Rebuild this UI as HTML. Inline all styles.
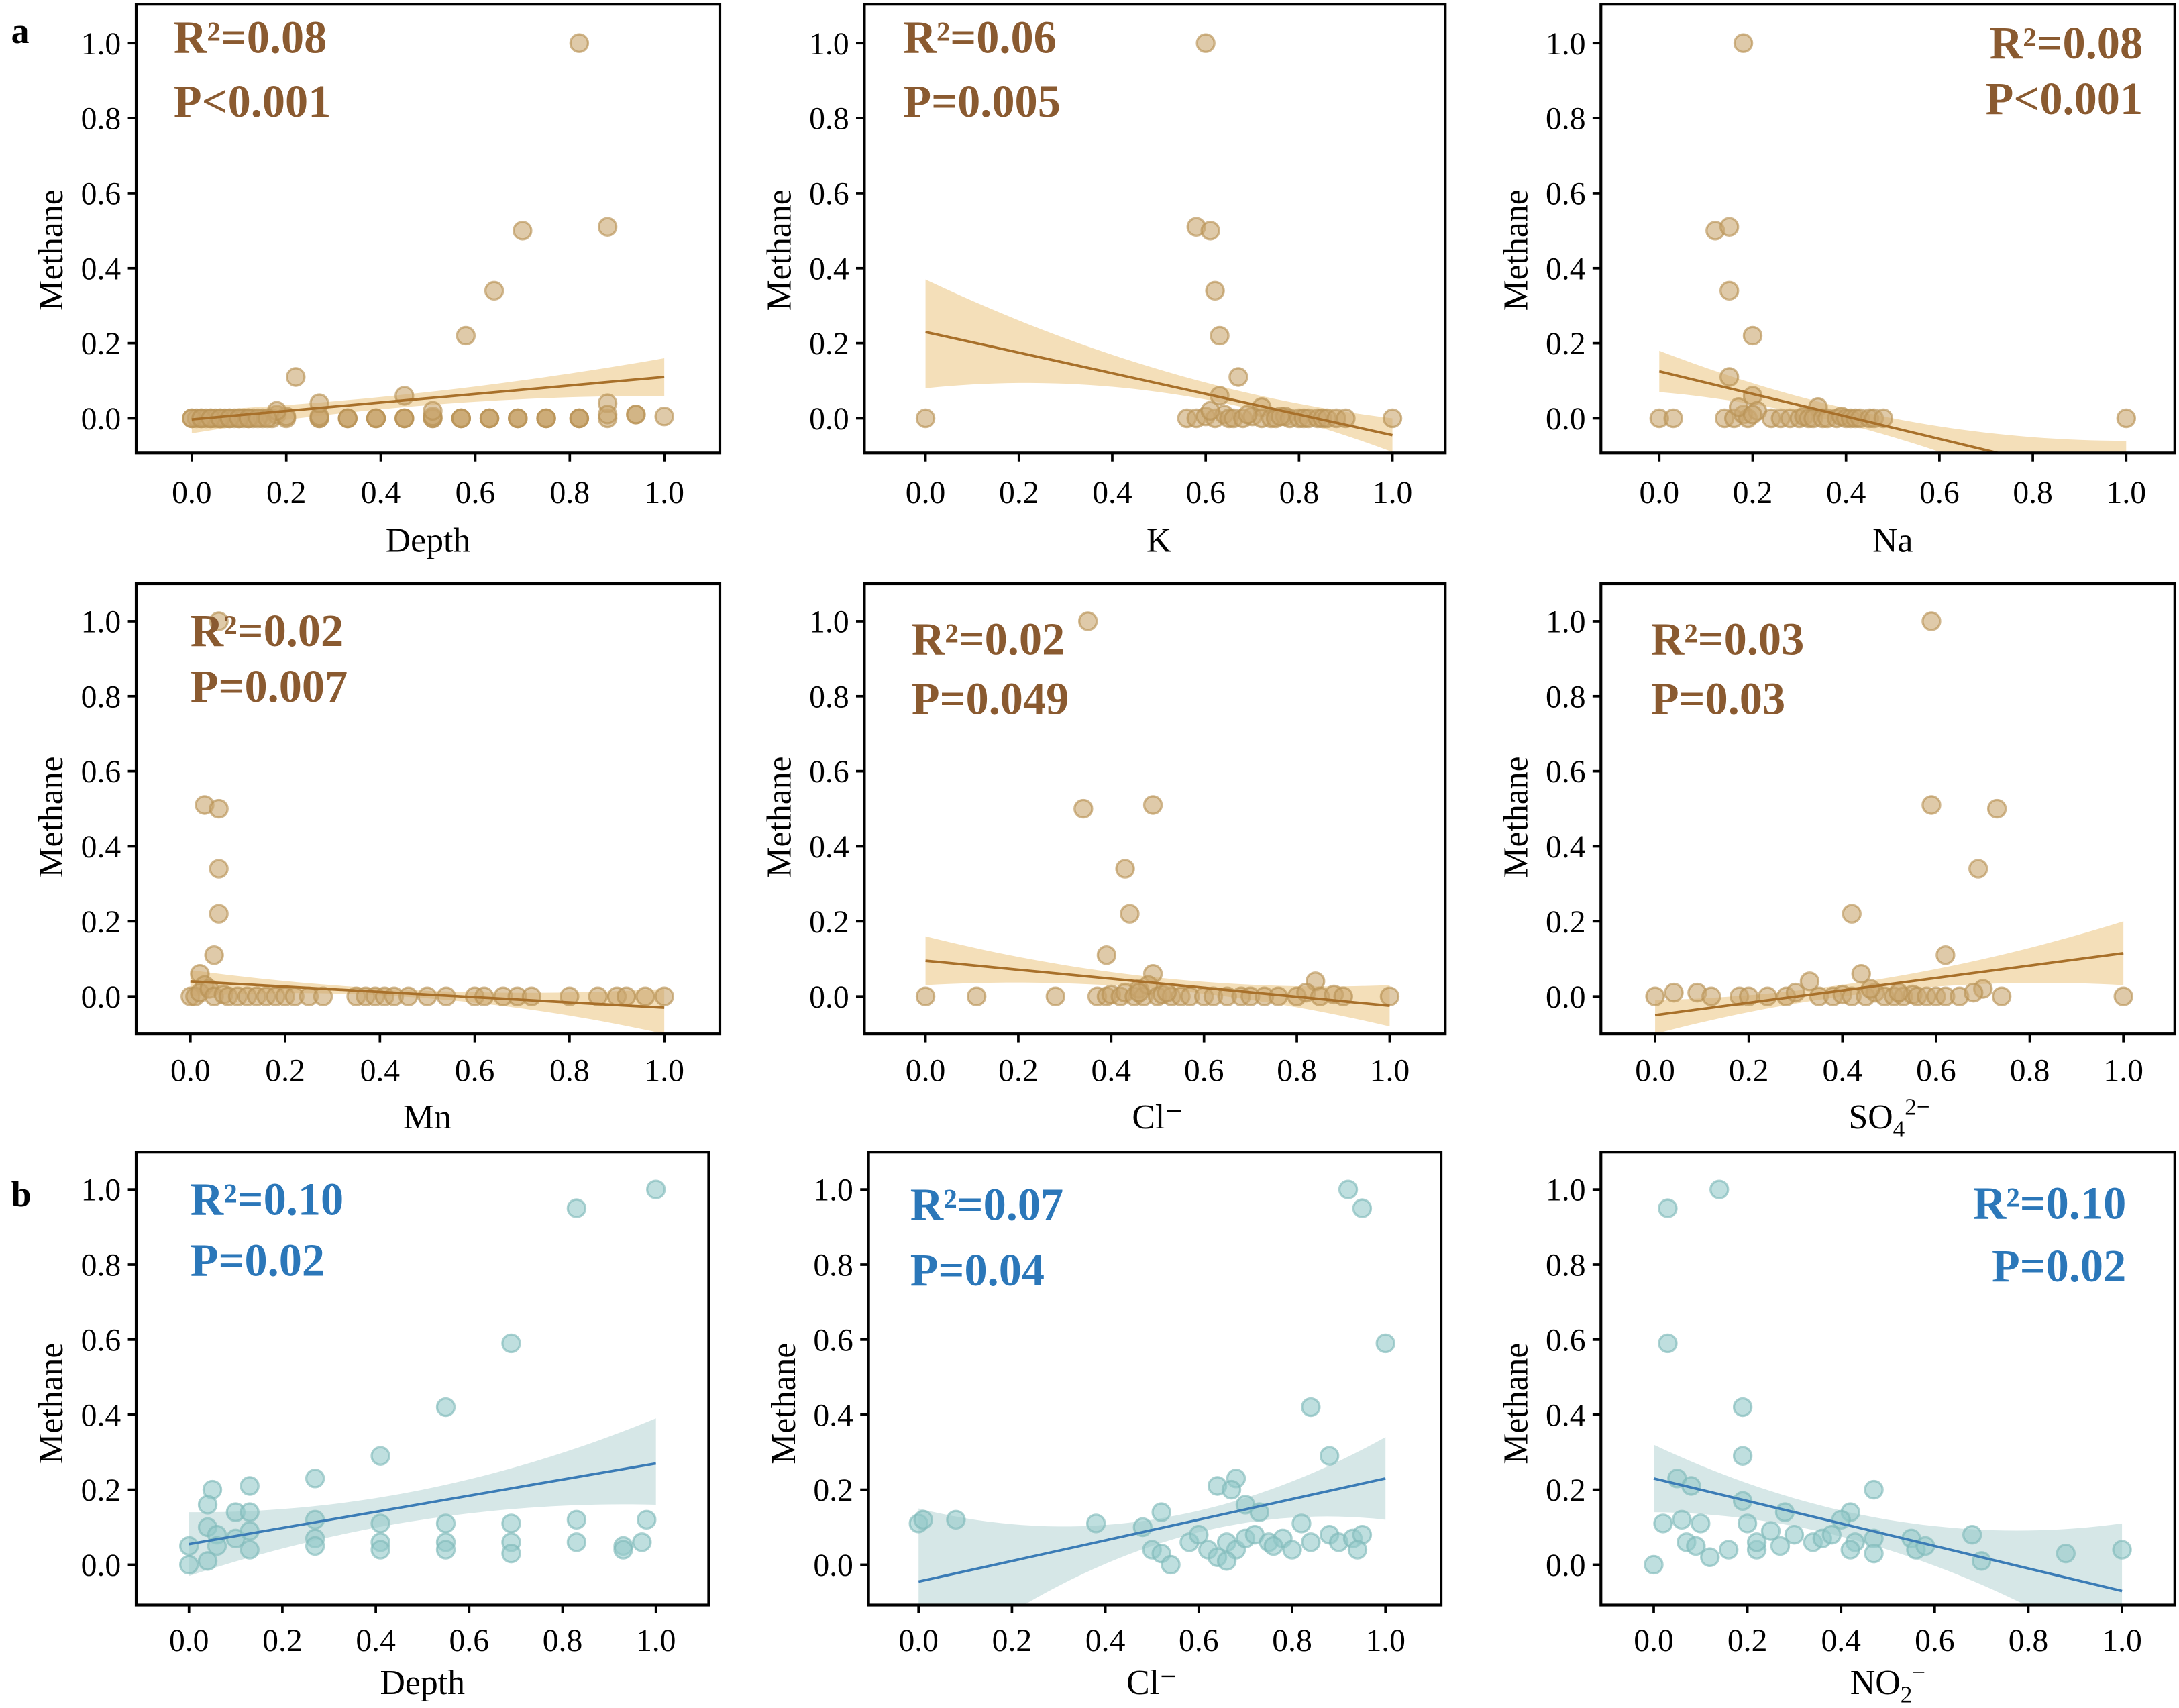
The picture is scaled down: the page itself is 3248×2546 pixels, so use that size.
<!DOCTYPE html>
<html><head><meta charset="utf-8"><style>
html,body{margin:0;padding:0;background:#fff}
svg{display:block}
text{font-family:"Liberation Serif",serif}
</style></head><body>
<svg id="fig" xmlns="http://www.w3.org/2000/svg" width="3248" height="2546" viewBox="0 0 1568 1229.1">
<rect x="0" y="0" width="1568" height="1230" fill="#fff"/>
<text x="8" y="31" font-size="26" font-weight="bold">a</text>
<text x="8" y="868" font-size="26" font-weight="bold">b</text>
</svg>
<script>
// ---- data ----
const ticks = [0, 0.2, 0.4, 0.6, 0.8, 1.0];
const tickLabels = ["0.0", "0.2", "0.4", "0.6", "0.8", "1.0"];

const a1X = [0,0.01,0.02,0.03,0.04,0.05,0.06,0.07,0.08,0.09,0.1,0.11,0.12,0.13,0.15,0.17,0.18,0.2,0.2,0.27,0.27,0.27,0.33,0.33,0.39,0.39,0.45,0.45,0.51,0.51,0.51,0.57,0.57,0.63,0.63,0.69,0.69,0.75,0.75,0.82,0.82,0.88,0.94,0.94,1.0,0.82,0.7,0.88,0.64,0.58,0.22,0.45,0.27,0.88,0.18,0.88,0.51,0,0.02,0.04,0.06,0.08,0.1,0.12,0.14,0.16,0.33,0.39,0.45,0.57,0.63,0.69,0.75,0.82];
const a1Y = [0,0,0,0,0,0,0,0,0,0,0,0,0,0,0,0,0.01,0,0.005,0,0,0.005,0,0,0,0,0,0,0,0,0.005,0,0,0,0,0,0,0,0,0,0,0,0.01,0.01,0.005,1.0,0.5,0.51,0.34,0.22,0.11,0.06,0.04,0.04,0.02,0.01,0.02,0,0,0,0,0,0,0,0,0,0,0,0,0,0,0,0,0];
const a1Fit = [-0.003, 0.11];
const a1Lo = [-0.04, 0.035, 0.06];
const a1Hi = [0.02, 0.07, 0.16];

const a2X = [0,0.6,0.58,0.61,0.62,0.63,0.67,0.63,0.72,0.56,0.58,0.6,0.62,0.64,0.65,0.66,0.68,0.7,0.72,0.74,0.75,0.77,0.78,0.8,0.81,0.82,0.84,0.85,0.86,0.88,0.9,0.61,0.69,0.76,1.0];
const a2Y = [0,1.0,0.51,0.5,0.34,0.22,0.11,0.06,0.03,0,0,0.005,0,0.01,0,0,0,0.005,0,0,0,0.005,0,0,0,0,0,0,0,0,0,0.02,0.01,0.005,0];
const a2Fit = [0.23, -0.045];
const a2Lo = [0.08, 0.07, -0.09];
const a2Hi = [0.37, 0.13, 0.0];

const a3X = [0,0.03,0.18,0.12,0.15,0.15,0.2,0.15,0.2,0.34,0.14,0.16,0.18,0.19,0.21,0.24,0.26,0.28,0.3,0.31,0.32,0.33,0.35,0.36,0.38,0.39,0.4,0.41,0.42,0.43,0.45,0.46,0.48,0.17,0.2,1.0];
const a3Y = [0,0,1.0,0.5,0.51,0.34,0.22,0.11,0.06,0.03,0,0,0.01,0,0.02,0,0,0,0,0.005,0,0,0,0,0,0.005,0,0,0,0,0,0,0,0.03,0.01,0];
const a3Fit = [0.125, -0.175];
const a3Lo = [0.07, -0.05, -0.3];
const a3Hi = [0.18, 0.0, -0.06];

const a4X = [0.06,0.03,0.06,0.06,0.06,0.05,0.02,0.03,0,0.01,0.02,0.04,0.05,0.07,0.08,0.1,0.12,0.14,0.16,0.18,0.2,0.22,0.25,0.28,0.35,0.37,0.39,0.41,0.43,0.46,0.5,0.54,0.6,0.62,0.66,0.69,0.72,0.8,0.86,0.9,0.92,0.96,1.0];
const a4Y = [1.0,0.51,0.5,0.34,0.22,0.11,0.06,0.03,0,0,0.01,0.02,0,0.005,0,0,0,0,0,0,0,0,0,0,0,0,0,0,0,0,0,0,0,0,0,0,0,0,0,0,0,0,0];
const a4Fit = [0.04, -0.03];
const a4Lo = [0.0, -0.005, -0.1];
const a4Hi = [0.07, 0.015, 0.02];

const a5X = [0.35,0.34,0.49,0.43,0.44,0.39,0.49,0.84,0,0.11,0.28,0.37,0.39,0.4,0.42,0.43,0.45,0.46,0.47,0.48,0.5,0.51,0.53,0.55,0.57,0.6,0.62,0.65,0.68,0.7,0.73,0.76,0.8,0.82,0.85,0.88,0.9,0.46,0.52,1.0];
const a5Y = [1.0,0.5,0.51,0.34,0.22,0.11,0.06,0.04,0,0,0,0,0,0.005,0,0.01,0,0.02,0,0.03,0,0.005,0,0,0,0,0,0,0,0,0,0,0,0.01,0,0.005,0,0.01,0.01,0];
const a5Fit = [0.095, -0.025];
const a5Lo = [0.03, 0.02, -0.08];
const a5Hi = [0.16, 0.05, 0.03];

const a6X = [0.59,0.59,0.73,0.69,0.42,0.62,0.44,0.7,0.33,0,0.04,0.09,0.12,0.18,0.2,0.24,0.28,0.3,0.35,0.38,0.4,0.42,0.45,0.47,0.49,0.51,0.53,0.55,0.56,0.58,0.6,0.62,0.65,0.68,0.74,0.46,0.52,1.0];
const a6Y = [1.0,0.51,0.5,0.34,0.22,0.11,0.06,0.02,0.04,0,0.01,0.01,0,0,0,0,0,0.01,0,0,0.005,0,0,0.01,0,0,0,0.005,0,0,0,0,0,0.01,0,0.02,0.01,0];
const a6Fit = [-0.05, 0.115];
const a6Lo = [-0.1, 0.015, 0.03];
const a6Hi = [-0.01, 0.05, 0.2];

const b1X = [1.0,0.83,0.69,0.55,0.41,0.27,0.05,0.13,0.04,0.1,0.13,0,0,0.04,0.06,0.1,0.13,0.27,0.27,0.27,0.41,0.41,0.41,0.55,0.55,0.55,0.69,0.69,0.69,0.83,0.83,0.93,0.93,0.97,0.98,0.04,0.13,0.06];
const b1Y = [1.0,0.95,0.59,0.42,0.29,0.23,0.2,0.21,0.16,0.14,0.14,0.05,0.0,0.1,0.08,0.07,0.09,0.12,0.07,0.05,0.11,0.06,0.04,0.11,0.06,0.04,0.11,0.06,0.03,0.12,0.06,0.05,0.04,0.06,0.12,0.01,0.04,0.05];
const b1Fit = [0.055, 0.27];
const b1Lo = [-0.03, 0.12, 0.16];
const b1Hi = [0.14, 0.2, 0.39];

const b2X = [0,0.01,0.08,0.92,0.95,1.0,0.84,0.88,0.68,0.64,0.67,0.7,0.73,0.52,0.38,0.48,0.5,0.52,0.54,0.58,0.6,0.62,0.64,0.66,0.68,0.7,0.72,0.75,0.78,0.8,0.82,0.84,0.88,0.9,0.93,0.95,0.94,0.66,0.76];
const b2Y = [0.11,0.12,0.12,1.0,0.95,0.59,0.42,0.29,0.23,0.21,0.2,0.16,0.14,0.14,0.11,0.1,0.04,0.03,0.0,0.06,0.08,0.04,0.02,0.06,0.04,0.07,0.08,0.06,0.07,0.04,0.11,0.06,0.08,0.06,0.07,0.08,0.04,0.01,0.05];
const b2Fit = [-0.045, 0.23];
const b2Lo = [-0.3, 0.05, 0.12];
const b2Hi = [0.15, 0.12, 0.34];

const b3X = [0.14,0.03,0.03,0.19,0.19,0.05,0.08,0.47,0.19,0.28,0.42,0.4,0.02,0.06,0.1,0.2,0.25,0.3,0.34,0.36,0.38,0.43,0.47,0.47,0.42,0.55,0.56,0.58,0.68,0.7,0.88,1.0,0.0,0.07,0.09,0.12,0.16,0.22,0.22,0.27];
const b3Y = [1.0,0.95,0.59,0.42,0.29,0.23,0.21,0.2,0.17,0.14,0.14,0.12,0.11,0.12,0.11,0.11,0.09,0.08,0.06,0.07,0.08,0.06,0.07,0.03,0.04,0.07,0.04,0.05,0.08,0.01,0.03,0.04,0.0,0.06,0.05,0.02,0.04,0.04,0.06,0.05];
const b3Fit = [0.23, -0.07];
const b3Lo = [0.14, 0.04, -0.25];
const b3Hi = [0.32, 0.12, 0.11];

// ---- layout ----
const tan = {pt:"#c9a66f", ptStroke:"#b89254", line:"#a8702a", band:"#f2d9ad", txt:"#8a5a30"};
const teal = {pt:"#94c9c9", ptStroke:"#80baba", line:"#3b7cb6", band:"#cfe3e3", txt:"#2b77b9"};
const rows = [
  {top:3, bot:326, y0:301, y1:31, tickBase:362, labBase:397, ylab:180},
  {top:420, bot:744, y0:717, y1:447, tickBase:778, labBase:812, ylab:588},
  {top:829, bot:1155, y0:1126, y1:856, tickBase:1188, labBase:1219, ylab:1010}
];
const panels = [
  {id:"a-depth", row:0, l:98, r:518, x0:138, x1:478, xs:a1X, ys:a1Y, fit:a1Fit, lo:a1Lo, hi:a1Hi, c:tan, xl:"Depth", r2:"R²=0.08", p:"P<0.001", ax:125, ay:[38,84], anchor:"start"},
  {id:"a-k", row:0, l:622, r:1040, x0:666, x1:1002, xs:a2X, ys:a2Y, fit:a2Fit, lo:a2Lo, hi:a2Hi, c:tan, xl:"K", r2:"R²=0.06", p:"P=0.005", ax:650, ay:[38,84], anchor:"start"},
  {id:"a-na", row:0, l:1152, r:1565, x0:1194, x1:1530, xs:a3X, ys:a3Y, fit:a3Fit, lo:a3Lo, hi:a3Hi, c:tan, xl:"Na", r2:"R²=0.08", p:"P<0.001", ax:1542, ay:[42,82], anchor:"end"},
  {id:"a-mn", row:1, l:98, r:518, x0:137, x1:478, xs:a4X, ys:a4Y, fit:a4Fit, lo:a4Lo, hi:a4Hi, c:tan, xl:"Mn", r2:"R²=0.02", p:"P=0.007", ax:137, ay:[465,505], anchor:"start"},
  {id:"a-cl", row:1, l:622, r:1040, x0:666, x1:1000, xs:a5X, ys:a5Y, fit:a5Fit, lo:a5Lo, hi:a5Hi, c:tan, xl:"Cl⁻", r2:"R²=0.02", p:"P=0.049", ax:656, ay:[471,514], anchor:"start"},
  {id:"a-so4", row:1, l:1152, r:1565, x0:1191, x1:1528, xs:a6X, ys:a6Y, fit:a6Fit, lo:a6Lo, hi:a6Hi, c:tan, xl:"SO", xsub:"4", xsup:"2−", r2:"R²=0.03", p:"P=0.03", ax:1188, ay:[471,514], anchor:"start"},
  {id:"b-depth", row:2, l:98, r:510, x0:136, x1:472, xs:b1X, ys:b1Y, fit:b1Fit, lo:b1Lo, hi:b1Hi, c:teal, xl:"Depth", r2:"R²=0.10", p:"P=0.02", ax:137, ay:[874,918], anchor:"start"},
  {id:"b-cl", row:2, l:625, r:1037, x0:661, x1:997, xs:b2X, ys:b2Y, fit:b2Fit, lo:b2Lo, hi:b2Hi, c:teal, xl:"Cl⁻", r2:"R²=0.07", p:"P=0.04", ax:655, ay:[878,925], anchor:"start"},
  {id:"b-no2", row:2, l:1152, r:1565, x0:1190, x1:1527, xs:b3X, ys:b3Y, fit:b3Fit, lo:b3Lo, hi:b3Hi, c:teal, xl:"NO", xsub:"2", xsup:"−", r2:"R²=0.10", p:"P=0.02", ax:1530, ay:[877,922], anchor:"end"}
];

const NS = "http://www.w3.org/2000/svg";
const svg = document.getElementById("fig");
function mk(tag, attrs, parent) {
  const e = document.createElementNS(NS, tag);
  for (const k in attrs) e.setAttribute(k, attrs[k]);
  (parent || svg).appendChild(e);
  return e;
}
function quad(v, t) { // quadratic through t=0,0.5,1
  return v[0]*2*(t-0.5)*(t-1) - v[1]*4*t*(t-1) + v[2]*2*t*(t-0.5);
}
const defs = mk("defs", {});

panels.forEach((P, i) => {
  const R = rows[P.row];
  const sx = v => P.x0 + (P.x1 - P.x0) * v;
  const sy = v => R.y0 - (R.y0 - R.y1) * v;
  const g = mk("g", {});
  
  
  const cp = mk("clipPath", {id: "clip" + i}, defs);
  mk("rect", {x: P.l, y: R.top, width: P.r - P.l, height: R.bot - R.top}, cp);
  const plot = mk("g", {"clip-path": "url(#clip" + i + ")"}, g);
  let up = [], dn = [];
  for (let k = 0; k <= 40; k++) {
    const t = k / 40;
    up.push(sx(t).toFixed(2) + "," + sy(quad(P.hi, t)).toFixed(2));
    dn.unshift(sx(t).toFixed(2) + "," + sy(quad(P.lo, t)).toFixed(2));
  }
  const band = mk("polygon", {points: up.concat(dn).join(" "), fill: P.c.band, opacity: 0.85}, plot);
  
  
  for (let k = 0; k < P.xs.length; k++) {
    const c = mk("circle", {cx: sx(P.xs[k]), cy: sy(P.ys[k]), r: 6.3, fill: P.c.pt, "fill-opacity": 0.6, stroke: P.c.ptStroke, "stroke-opacity": 0.65, "stroke-width": 1.6}, plot);
    
    
  }
  const ln = mk("line", {x1: sx(0), y1: sy(P.fit[0]), x2: sx(1), y2: sy(P.fit[1]), stroke: P.c.line, "stroke-width": 1.8}, plot);
  
  
  const fr = mk("rect", {x: P.l, y: R.top, width: P.r - P.l, height: R.bot - R.top, fill: "none", stroke: "#000", "stroke-width": 2}, g);
  
  
  ticks.forEach((t, k) => {
    mk("line", {x1: P.l - 6, x2: P.l, y1: sy(t), y2: sy(t), stroke: "#000", "stroke-width": 1.8}, g);
    const yl = mk("text", {x: P.l - 11, y: sy(t) + 8, "font-size": 23, "text-anchor": "end"}, g);
    yl.textContent = tickLabels[k];
    
    
    mk("line", {x1: sx(t), x2: sx(t), y1: R.bot, y2: R.bot + 6, stroke: "#000", "stroke-width": 1.8}, g);
    const xl = mk("text", {x: sx(t), y: R.tickBase, "font-size": 23, "text-anchor": "middle"}, g);
    xl.textContent = tickLabels[k];
    
    
  });
  const yt = mk("text", {x: 0, y: 0, "font-size": 25, "text-anchor": "middle", transform: "translate(" + (P.l - 53) + "," + R.ylab + ") rotate(-90)"}, g);
  yt.textContent = "Methane";
  
  
  const xt = mk("text", {x: (P.x0 + P.x1) / 2, y: R.labBase, "font-size": 25, "text-anchor": "middle"}, g);
  xt.textContent = P.xl;
  if (P.xsub) {
    const s1 = mk("tspan", {"font-size": 17, dy: 6}, xt); s1.textContent = P.xsub;
    const s2 = mk("tspan", {"font-size": 17, dy: -16}, xt); s2.textContent = P.xsup;
  }
  
  
  const t1 = mk("text", {x: P.ax, y: P.ay[0], "font-size": 33, "font-weight": "bold", fill: P.c.txt, "text-anchor": P.anchor}, g);
  t1.textContent = P.r2;
  
  
  const t2 = mk("text", {x: P.ax, y: P.ay[1], "font-size": 33, "font-weight": "bold", fill: P.c.txt, "text-anchor": P.anchor}, g);
  t2.textContent = P.p;
  
  
});
</script>
</body></html>
